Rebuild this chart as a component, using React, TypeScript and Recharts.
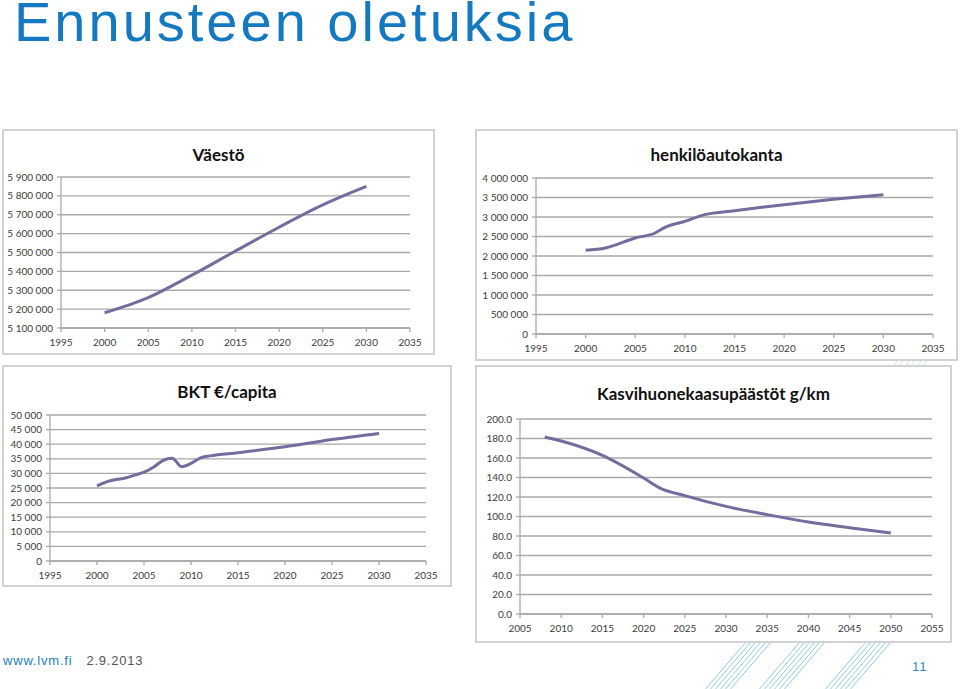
import { LineChart, Line, XAxis, YAxis, CartesianGrid } from 'recharts'

// Väestö
const popYears = [2000, 2005, 2010, 2015, 2020, 2025, 2030]
const popValues = [5181000, 5261000, 5380000, 5508000, 5634000, 5752000, 5850000]
const popYTicks = [5100000, 5200000, 5300000, 5400000, 5500000, 5600000, 5700000, 5800000, 5900000]

// henkilöautokanta
const carYears = [2000, 2002, 2005, 2007, 2008, 2010, 2012, 2015, 2020, 2025, 2030]
const carValues = [2145000, 2205000, 2462000, 2590000, 2735000, 2889000, 3060000, 3162000, 3316000, 3453000, 3573000]
const carYTicks = [0, 500000, 1000000, 1500000, 2000000, 2500000, 3000000, 3500000, 4000000]

// BKT €/capita
const gdpYears = [2000, 2001, 2002, 2003, 2004, 2005, 2006, 2007, 2008, 2009, 2010, 2011, 2012, 2015, 2020, 2025, 2030]
const gdpValues = [25700, 27100, 27900, 28400, 29400, 30400, 32100, 34400, 35200, 32300, 33400, 35300, 36000, 37100, 39100, 41600, 43700]
const gdpYTicks = [0, 5000, 10000, 15000, 20000, 25000, 30000, 35000, 40000, 45000, 50000]

// Kasvihuonekaasupäästöt g/km
const ghgYears = [2008, 2010, 2015, 2020, 2022, 2025, 2030, 2035, 2040, 2045, 2050]
const ghgValues = [181.5, 177.4, 162.7, 139.5, 129.2, 121.4, 110.4, 101.9, 94.4, 88.5, 83.1]
const ghgYTicks = [0, 20, 40, 60, 80, 100, 120, 140, 160, 180, 200]

const yearTicks = [1995, 2000, 2005, 2010, 2015, 2020, 2025, 2030, 2035]
const ghgXTicks = [2005, 2010, 2015, 2020, 2025, 2030, 2035, 2040, 2045, 2050, 2055]

// decorative stripe bundles at the bottom of the slide
const stripeStarts = [703, 757, 823]

// nbsp keeps recharts from wrapping "5 900 000" onto several lines
const spaced = (n: number) => String(n).replace(/\B(?=(\d{3})+(?!\d))/g, '\u00a0')
const oneDec = (n: number) => n.toFixed(1)

const toRows = (years: number[], values: number[]) => years.map((year, i) => ({ year, value: values[i] }))

const gray = '#a9a9a9'
const lineColor = '#716d9d'
const tickStyle = { fontSize: 10, fill: '#3c3c3c' }

type PanelProps = {
    left: number
    top: number
    width: number
    height: number
    title: string
    titleY: number
    rows: { year: number; value: number }[]
    xTicks: number[]
    yTicks: number[]
    yFmt: (n: number) => string
    yWidth: number
    mTop: number
    mRight: number
    xHeight: number
}

function Panel(p: PanelProps) {
    const xDomain = [p.xTicks[0], p.xTicks[p.xTicks.length - 1]]
    const yDomain = [p.yTicks[0], p.yTicks[p.yTicks.length - 1]]
    return (
        <div
            style={{
                position: 'absolute',
                left: p.left,
                top: p.top,
                width: p.width,
                height: p.height,
                boxSizing: 'border-box',
                border: '2px solid #d2d2d2',
                background: '#fff',
                zIndex: 1,
            }}>
            <div
                style={{
                    position: 'absolute',
                    left: -2,
                    top: p.titleY - 12,
                    width: p.width,
                    height: 24,
                    lineHeight: '24px',
                    textAlign: 'center',
                    fontFamily: 'Lato, sans-serif',
                    fontWeight: 700,
                    fontSize: 17,
                    color: '#111',
                }}>
                {p.title}
            </div>
            <div style={{ position: 'absolute', left: -2, top: -2 }}>
                <LineChart
                    width={p.width}
                    height={p.height}
                    data={p.rows}
                    margin={{ top: p.mTop, right: p.mRight, left: 0, bottom: 0 }}
                    style={{ fontFamily: 'Lato, sans-serif' }}>
                    <CartesianGrid vertical={false} stroke={gray} strokeWidth={1.3} />
                    <XAxis
                        dataKey='year'
                        type='number'
                        domain={xDomain}
                        ticks={p.xTicks}
                        interval={0}
                        height={p.xHeight}
                        tick={tickStyle}
                        tickSize={4}
                        tickMargin={7}
                        stroke={gray}
                        strokeWidth={1.3}
                    />
                    <YAxis
                        type='number'
                        domain={yDomain}
                        ticks={p.yTicks}
                        interval={0}
                        width={p.yWidth}
                        tick={tickStyle}
                        tickFormatter={p.yFmt}
                        tickSize={4}
                        tickMargin={4}
                        stroke={gray}
                        strokeWidth={1.3}
                    />
                    <Line
                        type='monotone'
                        dataKey='value'
                        stroke={lineColor}
                        strokeWidth={3}
                        dot={false}
                        isAnimationActive={false}
                    />
                </LineChart>
            </div>
        </div>
    )
}

export default function App() {
    return (
        <div
            style={{
                position: 'absolute',
                left: 0,
                top: 0,
                width: 960,
                height: 689,
                overflow: 'hidden',
                background: '#fff',
                fontFamily: '"Liberation Sans", Arial, sans-serif',
            }}>
            <div
                style={{
                    position: 'absolute',
                    left: 14,
                    top: -6,
                    fontSize: 56,
                    lineHeight: '56px',
                    letterSpacing: 3,
                    color: '#1479c0',
                    whiteSpace: 'nowrap',
                }}>
                Ennusteen oletuksia
            </div>

            <svg width={960} height={689} style={{ position: 'absolute', left: 0, top: 0, zIndex: 0 }}>
                {stripeStarts.map((sx) =>
                    [0, 5, 10, 15, 20, 25].map((d) => (
                        <line
                            key={sx + '-' + d}
                            x1={sx + d}
                            y1={692}
                            x2={sx + d + 48}
                            y2={636}
                            stroke='#6cc0cf'
                            strokeWidth={0.8}
                        />
                    ))
                )}
                {[893, 899, 905, 911, 917, 923].map((x) => (
                    <line key={'g' + x} x1={x} y1={367} x2={x + 5} y2={359} stroke='#b9dfe6' strokeWidth={0.8} />
                ))}
            </svg>

            <Panel
                left={2}
                top={129}
                width={433}
                height={226}
                title='Väestö'
                titleY={24}
                rows={toRows(popYears, popValues)}
                xTicks={yearTicks}
                yTicks={popYTicks}
                yFmt={spaced}
                yWidth={59}
                mTop={48}
                mRight={25}
                xHeight={27}
            />
            <Panel
                left={475}
                top={129}
                width={483}
                height={232}
                title='henkilöautokanta'
                titleY={24}
                rows={toRows(carYears, carValues)}
                xTicks={yearTicks}
                yTicks={carYTicks}
                yFmt={spaced}
                yWidth={61}
                mTop={49}
                mRight={25}
                xHeight={27}
            />
            <Panel
                left={2}
                top={365}
                width={450}
                height={222}
                title='BKT €/capita'
                titleY={25}
                rows={toRows(gdpYears, gdpValues)}
                xTicks={yearTicks}
                yTicks={gdpYTicks}
                yFmt={spaced}
                yWidth={48}
                mTop={50}
                mRight={26}
                xHeight={26}
            />
            <Panel
                left={475}
                top={365}
                width={477}
                height={278}
                title='Kasvihuonekaasupäästöt g/km'
                titleY={27}
                rows={toRows(ghgYears, ghgValues)}
                xTicks={ghgXTicks}
                yTicks={ghgYTicks}
                yFmt={oneDec}
                yWidth={45}
                mTop={54}
                mRight={20}
                xHeight={29}
            />

            <div style={{ position: 'absolute', left: 3, top: 653, fontSize: 13, lineHeight: '16px', letterSpacing: 0.8, whiteSpace: 'nowrap' }}>
                <span style={{ color: '#1a80c0' }}>www.lvm.fi</span>
                <span style={{ color: '#555', marginLeft: 14 }}>2.9.2013</span>
            </div>
            <div style={{ position: 'absolute', left: 912, top: 659, fontSize: 13, lineHeight: '16px', letterSpacing: 1, color: '#2a8ac0' }}>
                11
            </div>
        </div>
    )
}
